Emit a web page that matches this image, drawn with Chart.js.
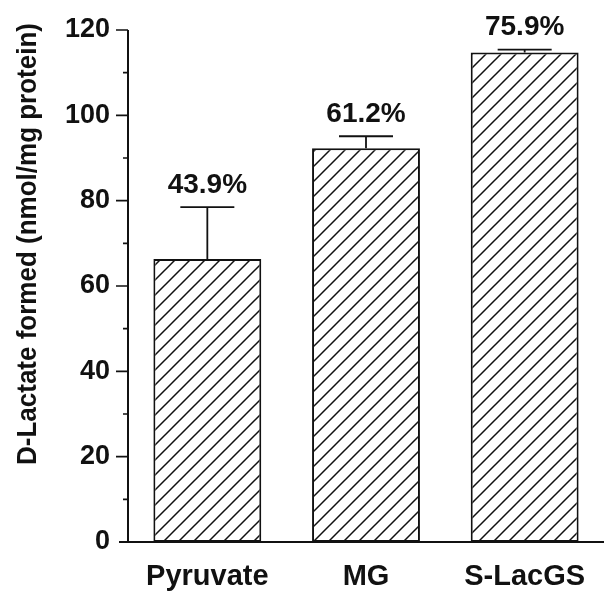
<!DOCTYPE html>
<html>
<head>
<meta charset="utf-8">
<script src="https://cdn.jsdelivr.net/npm/chart.js@4/dist/chart.umd.min.js"></script>
<style>
  html, body { margin: 0; padding: 0; background: #fff; }
  #wrap { width: 604px; height: 592px; position: relative; }
</style>
</head>
<body>
<div id="wrap"><canvas id="c"></canvas></div>
<script>
// ---- data ----
const categories = ['Pyruvate', 'MG', 'S-LacGS'];
const values = [66.3, 92.3, 114.7];
const errors = [12.2, 2.8, 0.7];
const percentLabels = ['43.9%', '61.2%', '75.9%'];
const yMajorTicks = [0, 20, 40, 60, 80, 100, 120];
const yMinorTicks = [10, 30, 50, 70, 90, 110];
const yTitle = 'D-Lactate formed (nmol/mg protein)';

const FONT = '"Liberation Sans", Arial, Helvetica, sans-serif';

// hatch pattern
function makeHatch() {
  const s = 15;
  const p = document.createElement('canvas');
  p.width = s; p.height = s;
  const g = p.getContext('2d');
  g.fillStyle = '#fff';
  g.fillRect(0, 0, s, s);
  g.strokeStyle = '#111';
  g.lineWidth = 1.5;
  g.beginPath();
  g.moveTo(-2, s + 2); g.lineTo(s + 2, -2);
  g.moveTo(-2, 2); g.lineTo(2, -2);
  g.moveTo(s - 2, s + 2); g.lineTo(s + 2, s - 2);
  g.stroke();
  return document.getElementById('c').getContext('2d').createPattern(p, 'repeat');
}

const decor = {
  id: 'decor',
  afterDatasetsDraw(chart) {
    const ctx = chart.ctx;
    const x = chart.scales.x, y = chart.scales.y;
    const area = chart.chartArea;
    ctx.save();
    ctx.strokeStyle = '#111';
    ctx.fillStyle = '#111';
    ctx.lineCap = 'butt';
    // axes
    ctx.lineWidth = 2;
    ctx.beginPath();
    ctx.moveTo(area.left, y.getPixelForValue(120));
    ctx.lineTo(area.left, y.getPixelForValue(0));
    ctx.moveTo(area.left - 9, y.getPixelForValue(0));
    ctx.lineTo(area.right, y.getPixelForValue(0));
    ctx.stroke();
    // ticks
    ctx.lineWidth = 1.6;
    ctx.beginPath();
    yMajorTicks.forEach(v => {
      const py = y.getPixelForValue(v);
      if (v === 0) return;
      ctx.moveTo(area.left - 12, py); ctx.lineTo(area.left, py);
    });
    yMinorTicks.forEach(v => {
      const py = y.getPixelForValue(v);
      ctx.moveTo(area.left - 5, py); ctx.lineTo(area.left, py);
    });
    ctx.stroke();
    // error bars + labels
    ctx.lineWidth = 1.8;
    ctx.font = 'bold 28px ' + FONT;
    ctx.textAlign = 'center';
    ctx.textBaseline = 'middle';
    values.forEach((v, i) => {
      const cx = x.getPixelForValue(i);
      const top = y.getPixelForValue(v + errors[i]);
      const base = y.getPixelForValue(v);
      ctx.beginPath();
      ctx.moveTo(cx, base); ctx.lineTo(cx, top);
      ctx.moveTo(cx - 27, top); ctx.lineTo(cx + 27, top);
      ctx.stroke();
      ctx.fillText(percentLabels[i], cx, top - 22);
    });
    // y title
    ctx.save();
    ctx.translate(28, 244);
    ctx.scale(1.08, 1);
    ctx.rotate(-Math.PI / 2);
    ctx.font = 'bold 26px ' + FONT;
    ctx.textAlign = 'center';
    ctx.textBaseline = 'middle';
    ctx.fillText(yTitle, 0, 0);
    ctx.restore();
    ctx.restore();
  }
};

new Chart(document.getElementById('c'), {
  type: 'bar',
  data: {
    labels: categories,
    datasets: [{
      data: values,
      backgroundColor: makeHatch(),
      borderColor: '#111',
      borderWidth: 2,
      borderSkipped: false,
      barPercentage: 0.68,
      categoryPercentage: 1.0
    }]
  },
  options: {
    responsive: true,
    maintainAspectRatio: false,
    animation: false,
    devicePixelRatio: 1,
    layout: { padding: { top: 30, right: 0, bottom: 0, left: 0 } },
    plugins: { legend: { display: false }, tooltip: { enabled: false } },
    scales: {
      x: {
        grid: { display: false, drawTicks: false },
        border: { display: false },
        ticks: {
          color: '#111',
          font: { family: FONT, weight: 'bold', size: 29 },
          padding: 18,
          maxRotation: 0
        },
        afterFit(s) { s.height = 50; s.paddingLeft = 0; s.paddingRight = 0; }
      },
      y: {
        min: 0, max: 120,
        grid: { display: false, drawTicks: false },
        border: { display: false },
        ticks: {
          stepSize: 20,
          color: '#111',
          font: { family: FONT, weight: 'bold', size: 27 },
          padding: 18
        },
        afterFit(s) { s.width = 128; s.paddingTop = 0; s.paddingBottom = 0; }
      }
    }
  },
  plugins: [decor]
});
</script>
</body>
</html>
